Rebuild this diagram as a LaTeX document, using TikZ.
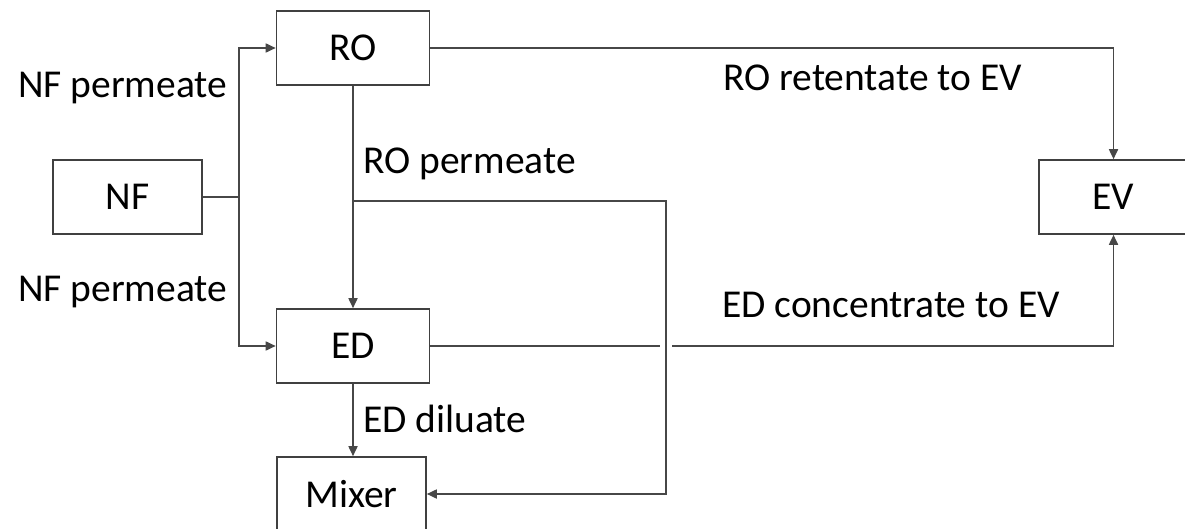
\documentclass[tikz,border=0pt]{standalone}
\usepackage{fontspec}
\setmainfont{Carlito}
\usetikzlibrary{arrows.meta,calc}
\begin{document}
\begin{tikzpicture}[x=1pt,y=-1pt,
  box/.style={draw=black!75,line width=1.6pt,minimum width=#1,minimum height=74pt,inner sep=0pt,font=\fontsize{39.5}{42}\selectfont},
  box/.default=152pt,
  conn/.style={draw=black!72,line width=1.7pt},
  arr/.style={conn,-{Triangle[length=10pt,width=9pt]}},
  lbl/.style={anchor=west,inner sep=0pt,font=\fontsize{39.5}{42}\selectfont}]
\useasboundingbox (0,0) rectangle (1185,529);
\node[box=153pt] (RO) at (353,48) {RO};
\node[box=149pt] (NF) at (127.5,197) {NF};
\node[box=153pt] (ED) at (353,346) {ED};
\node[box=149pt] (Mixer) at (351.5,494) {Mixer};
\node[box=149pt] (EV) at (1113.5,197) {EV};
\coordinate (j) at (239,197);
\coordinate (rp) at ($(RO.south)+(0,115)$);
\coordinate (rc) at (666,200);
\coordinate (rd) at (666,494);
\coordinate (g1) at (660,346);
\coordinate (g2) at (672,346);
\draw[conn] (NF.east) -- (j);
\draw[arr] (j) |- (RO.west);
\draw[arr] (j) |- (ED.west);
\draw[arr] (RO.south) -- (ED.north);
\draw[arr] (rp) -- (rp -| rc) -- (rd) -- (Mixer.east);
\draw[arr] (ED.south) -- (ED.south |- Mixer.north);
\draw[arr] (RO.east) -| (EV.north);
\draw[conn] (ED.east) -- (g1);
\draw[arr] (g2) -| (EV.south);
\node[lbl] (l1) at (18,88) {NF permeate};
\node[lbl] (l2) at (18,292) {NF permeate};
\node[lbl] (l3) at (363,164) {RO permeate};
\node[lbl] (l4) at (723,78) {RO retentate to EV};
\node[lbl] (l5) at (722,305) {ED concentrate to EV};
\node[lbl] (l6) at (363,419) {ED diluate};
\end{tikzpicture}
\end{document}
